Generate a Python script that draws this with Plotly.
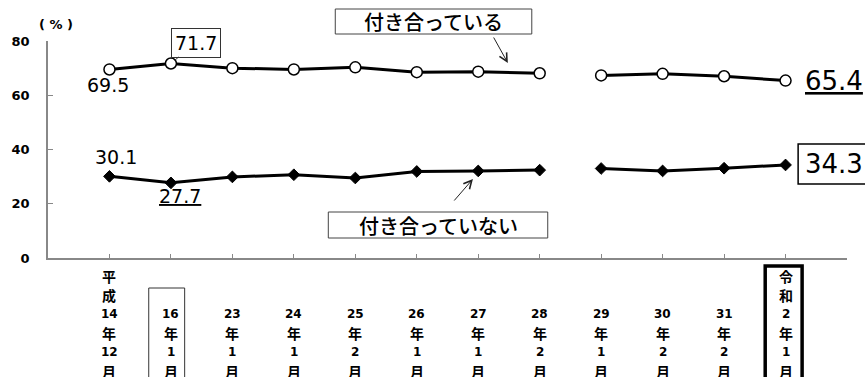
import re
import plotly.graph_objects as go

# Survey periods (Japanese era dates) and shares (%)
periods = ["平成14年12月", "16年1月", "23年1月", "24年1月", "25年2月", "26年1月",
           "27年1月", "28年2月", "29年1月", "30年2月", "31年2月", "令和2年1月"]
together = [69.5, 71.7, 70.0, 69.5, 70.3, 68.5, 68.7, 68.1, 67.3, 67.9, 67.0, 65.4]
not_together = [30.1, 27.7, 29.9, 30.7, 29.5, 31.9, 32.1, 32.4, 33.0, 32.1, 33.1, 34.3]
y_ticks = [0, 20, 40, 60, 80]
series_names = ["付き合っている", "付き合っていない"]
break_after = 7  # the series is not continuous between 28年2月 and 29年1月

W, H = 865, 377
PL, PR, PT, PB = 46, 847, 41, 258


def px(x):
    return (x - PL) / (PR - PL)


def py(y):
    return (PB - y) / (PB - PT)


idx = list(range(len(periods)))


def with_break(vals):
    xs = idx[:break_after + 1] + [None] + idx[break_after + 1:]
    ys = vals[:break_after + 1] + [None] + vals[break_after + 1:]
    return xs, ys


NUM = "DejaVu Sans"
JP = "Noto Sans CJK JP"

fig = go.Figure()
xs, ys = with_break(together)
fig.add_trace(go.Scatter(
    x=xs, y=ys, mode="lines+markers", name=series_names[0],
    line=dict(color="black", width=3),
    marker=dict(symbol="circle", size=11, color="white",
                line=dict(color="black", width=1.5)),
))
xs, ys = with_break(not_together)
fig.add_trace(go.Scatter(
    x=xs, y=ys, mode="lines+markers", name=series_names[1],
    line=dict(color="black", width=3),
    marker=dict(symbol="diamond", size=9, color="black",
                line=dict(color="black", width=1)),
))

ann = []
shapes = []


def label(**kw):
    kw.setdefault("xanchor", "center")
    kw.setdefault("yanchor", "middle")
    ann.append(kw)


# value labels
label(x=0, y=together[0], text=f"{together[0]:.1f}", xref="x", yref="y",
      showarrow=False, xshift=-1, yshift=-16,
      font=dict(family=NUM, size=19, color="black"))
label(x=1, y=together[1], text=f"{together[1]:.1f}", xref="x", yref="y",
      showarrow=True, ax=25, ay=-21, arrowhead=0, arrowwidth=1,
      arrowcolor="#333", standoff=5,
      bordercolor="#333", borderwidth=1, borderpad=3, bgcolor="white",
      font=dict(family=NUM, size=19, color="black"))
label(x=11, y=together[11], text=f"<u>{together[11]:.1f}</u>", xref="x", yref="y",
      showarrow=False, xshift=48, yshift=0,
      font=dict(family=NUM, size=26, color="black"))
label(x=0, y=not_together[0], text=f"{not_together[0]:.1f}", xref="x", yref="y",
      showarrow=False, xshift=7, yshift=19,
      font=dict(family=NUM, size=19, color="black"))
label(x=1, y=not_together[1], text=f"<u>{not_together[1]:.1f}</u>", xref="x", yref="y",
      showarrow=False, xshift=9, yshift=-13,
      font=dict(family=NUM, size=19, color="black"))
label(x=11, y=not_together[11], text=f"{not_together[11]:.1f}", xref="x", yref="y",
      showarrow=False, xshift=48, yshift=1,
      font=dict(family=NUM, size=26, color="black"))
shapes.append(dict(type="rect", xref="paper", yref="paper",
                   x0=px(798), x1=px(875), y0=py(184), y1=py(144),
                   line=dict(color="black", width=1.5)))

# series name boxes with pointer arrows
label(x=px(432), y=py(21.5), xref="paper", yref="paper", text=series_names[0],
      showarrow=False, font=dict(family=JP, size=20, weight=500, color="black"))
shapes.append(dict(type="rect", xref="paper", yref="paper",
                   x0=px(334), x1=px(531), y0=py(34), y1=py(9),
                   line=dict(color="#444", width=1)))
ann.append(dict(x=px(507), y=py(63), xref="paper", yref="paper", text="",
                showarrow=True, ax=-15, ay=-27, arrowhead=5, arrowsize=1.6,
                arrowwidth=1, arrowcolor="#222"))

label(x=px(437), y=py(225), xref="paper", yref="paper", text=series_names[1],
      showarrow=False, font=dict(family=JP, size=20, weight=500, color="black"))
shapes.append(dict(type="rect", xref="paper", yref="paper",
                   x0=px(327), x1=px(547), y0=py(238), y1=py(212),
                   line=dict(color="#444", width=1)))
ann.append(dict(x=px(472), y=py(179), xref="paper", yref="paper", text="",
                showarrow=True, ax=-20, ay=23, arrowhead=5, arrowsize=1.6,
                arrowwidth=1, arrowcolor="#222"))

# vertical category labels, bottom-aligned
line_step = 19
bottom_line = 371
for i, p in enumerate(periods):
    tokens = re.findall(r"\d+|\D", p)
    n = len(tokens)
    for k, tok in enumerate(tokens):
        ypix = bottom_line - (n - 1 - k) * line_step
        is_num = tok.isdigit()
        label(x=i, y=py(ypix), xref="x", yref="paper", text=tok,
              showarrow=False,
              font=dict(family=NUM if is_num else JP,
                        size=12 if is_num else 14,
                        weight="bold", color="black"))

# highlight boxes around first and latest comparison periods
shapes.append(dict(type="rect", xref="paper", yref="paper",
                   x0=px(147), x1=px(183), y0=py(400), y1=py(288),
                   line=dict(color="#333", width=1)))
shapes.append(dict(type="rect", xref="paper", yref="paper",
                   x0=px(765), x1=px(802), y0=py(400), y1=py(266),
                   line=dict(color="black", width=3.5)))

# unit label
label(x=px(54), y=py(24), xref="paper", yref="paper", text="( % )",
      showarrow=False, font=dict(family=NUM, size=13, weight="bold", color="black"))

fig.update_layout(
    width=W, height=H,
    margin=dict(l=PL, r=W - PR, t=PT, b=H - PB),
    plot_bgcolor="white", paper_bgcolor="white",
    showlegend=False,
    annotations=ann, shapes=shapes,
    xaxis=dict(range=[-1, 12], tickvals=list(range(0, 13)), showticklabels=False,
               ticks="inside", ticklen=4, tickcolor="#888",
               showline=True, linecolor="#888", linewidth=1.5,
               showgrid=False, zeroline=False),
    yaxis=dict(range=[0, 80], tickvals=y_ticks, ticks="inside", ticklen=5,
               tickcolor="#888", showline=True, linecolor="#888", linewidth=1.5,
               showgrid=False, zeroline=False, ticklabelstandoff=14,
               tickfont=dict(family=NUM, size=13, weight="bold", color="black")),
)

fig.write_html("out.html")
